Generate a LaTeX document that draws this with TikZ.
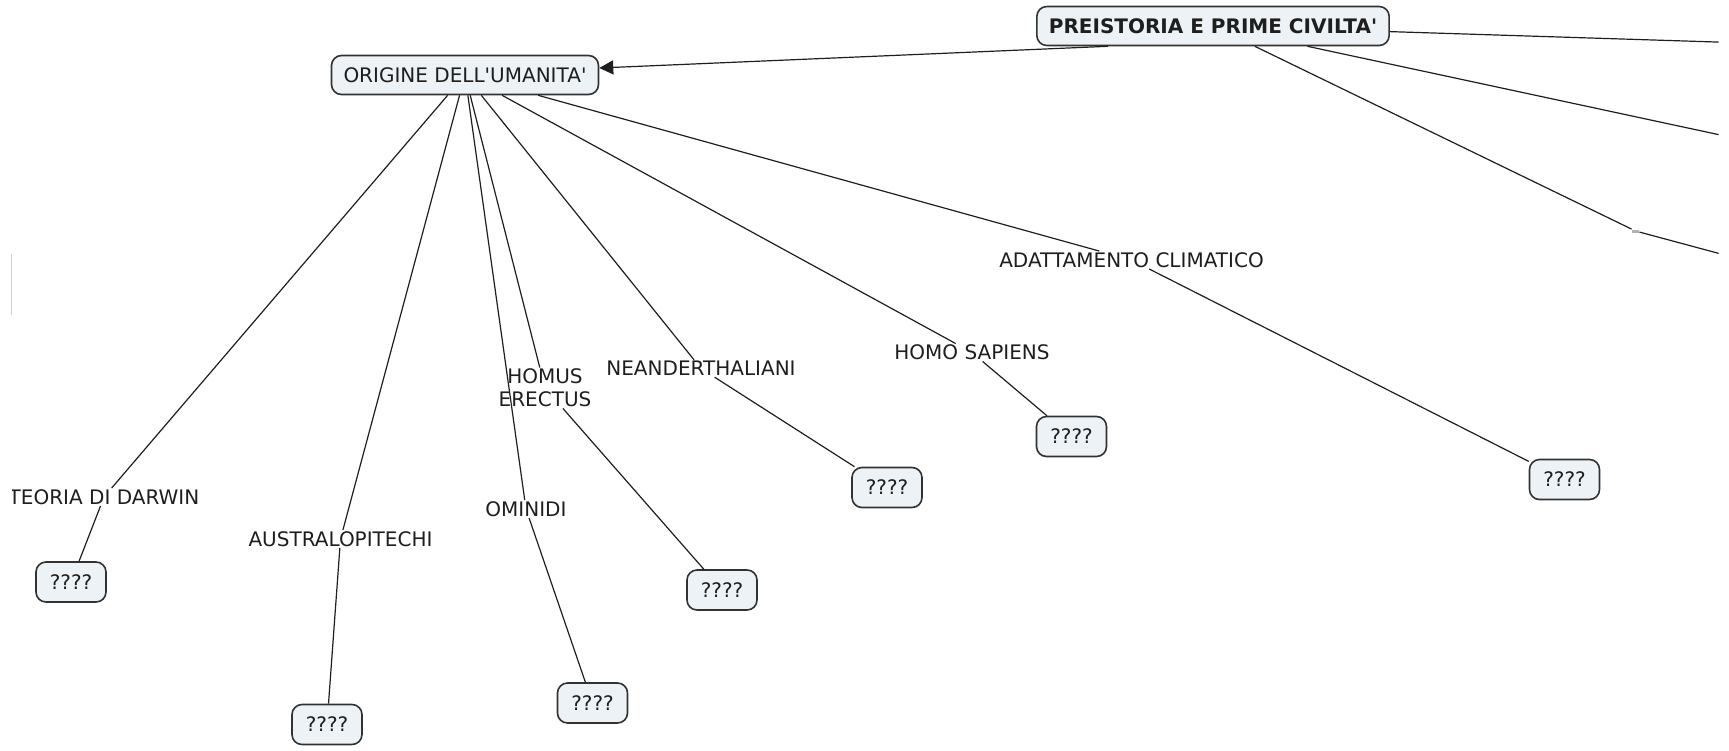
\documentclass[tikz,border=0pt]{standalone}
\usepackage{fontspec}
\setmainfont{DejaVu Sans}[Ligatures=TeXOff]
\usetikzlibrary{arrows.meta,positioning}
\definecolor{boxfill}{RGB}{236,242,245}
\definecolor{boxline}{RGB}{50,50,50}
\definecolor{inkgray}{RGB}{30,30,30}
\tikzset{
  concept/.style={draw=boxline, line width=0.8pt, fill=boxfill, rounded corners=5pt,
    inner xsep=6pt, inner ysep=0pt, minimum height=19.5pt, text=inkgray,
    font=\fontsize{10}{12}\selectfont},
  qbox/.style={concept, minimum width=35pt, minimum height=20pt},
  linkword/.style={inner sep=0.5pt, text=inkgray, align=center,
    font=\fontsize{10}{11.5}\selectfont},
  conn/.style={line width=0.6pt, draw=inkgray}
}

\begin{document}
\begin{tikzpicture}[x=0.5pt, y=-0.5pt]
        \useasboundingbox (0,0) rectangle (1729,750);
        \draw[gray!35, line width=0.6pt] (11.3,254) -- (11.3,315);
        \clip (12,0) rectangle (1718.5,750);
        \node[concept, font=\bfseries\fontsize{10}{12}\selectfont] (preist) at (1213,26) {PREISTORIA E PRIME CIVILTA'};
        \node[concept] (origine) at (465,75) {ORIGINE DELL'UMANITA'};
        \node[linkword] (teoria) at (104,497) {TEORIA DI DARWIN};
        \node[qbox] (teoriaq) at (71,582) {????};
        \node[linkword] (austral) at (340.5,539) {AUSTRALOPITECHI};
        \node[qbox] (australq) at (327,724.5) {????};
        \node[linkword] (ominidi) at (526,509) {OMINIDI};
        \node[qbox] (ominidiq) at (592.5,703) {????};
        \node[linkword] (erectus) at (545,388) {HOMUS\\ERECTUS};
        \node[qbox] (erectusq) at (722,590) {????};
        \node[linkword] (neand) at (701,368.5) {NEANDERTHALIANI};
        \node[qbox] (neandq) at (887,487.5) {????};
        \node[linkword] (sapiens) at (972,352.5) {HOMO SAPIENS};
        \node[qbox] (sapiensq) at (1071.5,436.5) {????};
        \node[linkword] (adatt) at (1131.5,260) {ADATTAMENTO CLIMATICO};
        \node[qbox] (adattq) at (1564.5,479.5) {????};
        \node[fill=gray!60, inner sep=0pt, minimum width=3.5pt, minimum height=1.5pt] (dashlbl) at (1635.5,231) {};
        \coordinate (far1) at (1760,43.4);
        \coordinate (far2) at (1760,143.5);
        \coordinate (far3) at (1760,264.5);
        \draw[conn, -{Triangle[length=7pt, width=7pt]}]
            ([xshift=-52.5pt]preist.south) -- ([yshift=3.5pt]origine.east);
        \path[conn]
            (preist) edge (far1)
            (preist) edge (far2)
            (preist) edge (dashlbl)
            (dashlbl) edge (far3)
            (origine) edge (teoria)
            (teoria) edge (teoriaq)
            (origine) edge (austral)
            (austral) edge (australq)
            (origine) edge (ominidi)
            (ominidi) edge (ominidiq)
            (origine) edge (erectus)
            (erectus) edge (erectusq)
            (origine) edge (neand)
            (neand) edge (neandq)
            (origine) edge (sapiens)
            (sapiens) edge (sapiensq)
            (origine) edge (adatt)
            (adatt) edge (adattq);
    \end{tikzpicture}
\end{document}
